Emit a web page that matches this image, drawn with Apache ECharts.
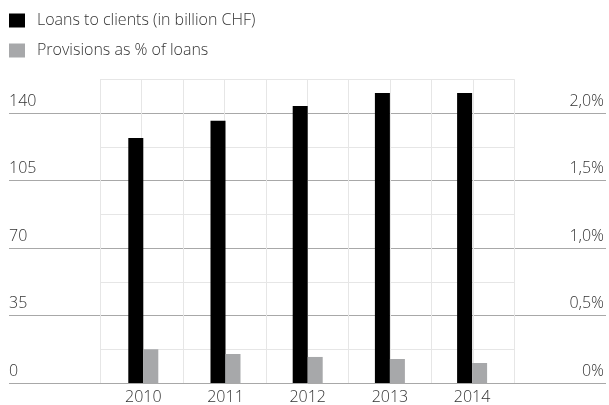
<!DOCTYPE html>
<html><head><meta charset="utf-8">
<script src="https://cdn.jsdelivr.net/npm/echarts@6/dist/echarts.min.js"></script>
<style>html,body{margin:0;padding:0;background:#fff}#c{width:609px;height:405px}</style>
</head><body><div id="c"></div>
<script>
const years = ['2010','2011','2012','2013','2014'];
const loans = [127, 136, 143.6, 150.4, 150.4];
const provisions = [0.25, 0.215, 0.193, 0.178, 0.148];
const leftTicks = [0, 35, 70, 105, 140];
const rightTicks = ['0%', '0,5%', '1,0%', '1,5%', '2,0%'];

const FONT = '"Open Sans", "Noto Sans", sans-serif';
const TXT = '#333333';
const FW = 300;
const gTop = 79.3, gBottom = 22;
const chart = echarts.init(document.getElementById('c'), null, {renderer: 'canvas'});
chart.setOption({
  animation: false,
  legend: {
    orient: 'vertical', left: 9, top: 12.5, padding: 0, itemWidth: 16, itemHeight: 14, itemGap: 14,
    icon: 'rect',
    textStyle: {fontFamily: FONT, fontSize: 16, fontWeight: FW, color: TXT, lineHeight: 14, padding: [0,0,0,7]},
    data: ['Loans to clients (in billion CHF)', 'Provisions as % of loans']
  },
  grid: [
    {left: 100, right: 94.5, top: gTop, bottom: gBottom},
    {left: 9, right: 3, top: gTop, bottom: gBottom},
    {left: 102.2, right: 95.8, top: gTop, bottom: gBottom}
  ],
  xAxis: [
    {type: 'category', gridIndex: 2, data: years, axisLine: {show: false}, axisTick: {show: false},
     axisLabel: {fontFamily: FONT, fontSize: 16, fontWeight: FW, color: TXT, margin: 6}, splitLine: {show: false}},
    {type: 'value', gridIndex: 0, min: 0, max: 10, interval: 1, axisLine: {show: false}, axisTick: {show: false},
     axisLabel: {show: false}, splitLine: {show: true, lineStyle: {color: '#e6e6e6', width: 1}}},
    {type: 'value', gridIndex: 1, show: false, min: 0, max: 1}
  ],
  yAxis: [
    {type: 'value', gridIndex: 0, min: 0, max: 157.5, interval: 17.5, axisLine: {show: false}, axisTick: {show: false},
     axisLabel: {show: false}, splitLine: {show: true, lineStyle: {color: '#e6e6e6', width: 1}}},
    {type: 'value', gridIndex: 2, min: 0, max: 157.5, show: false},
    {type: 'value', gridIndex: 2, min: 0, max: 2.25, show: false},
    {type: 'value', gridIndex: 1, min: 0, max: 157.5, interval: 35, axisLine: {show: false}, axisTick: {show: false},
     splitLine: {show: true, showMaxLine: false, lineStyle: {color: '#a8a8a8', width: 1}},
     axisLabel: {inside: true, margin: 0, fontFamily: FONT, fontSize: 16, fontWeight: FW, color: TXT, verticalAlign: 'bottom', padding: [0,0,4,0],
       showMaxLabel: false,
       formatter: v => leftTicks.indexOf(v) >= 0 ? String(v) : ''}},
    {type: 'value', gridIndex: 1, position: 'right', min: 0, max: 2.25, interval: 0.5, axisLine: {show: false}, axisTick: {show: false},
     splitLine: {show: false},
     axisLabel: {inside: true, margin: 2, fontFamily: FONT, fontSize: 16, fontWeight: FW, color: TXT, verticalAlign: 'bottom', padding: [0,0,4,0],
       showMaxLabel: false,
       formatter: v => { const i = Math.round(v / 0.5); return (Math.abs(v - i*0.5) < 1e-9 && i < rightTicks.length) ? rightTicks[i] : ''; }}}
  ],
  series: [
    {name: 'Loans to clients (in billion CHF)', type: 'bar', xAxisIndex: 0, yAxisIndex: 1, data: loans,
     barWidth: 15, barGap: '0%', itemStyle: {color: '#000'}},
    {name: 'Provisions as % of loans', type: 'bar', xAxisIndex: 0, yAxisIndex: 2, data: provisions,
     barWidth: 15, barGap: '0%', itemStyle: {color: '#a7a8aa'}}
  ]
});
</script></body></html>
